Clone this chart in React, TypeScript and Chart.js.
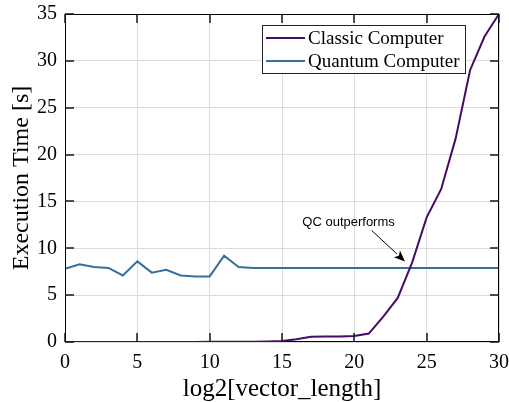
import React, { useEffect, useRef } from "react";
import { Chart, registerables } from "chart.js";

Chart.register(...registerables);

const xValues = [0, 1, 2, 3, 4, 5, 6, 7, 8, 9, 10, 11, 12, 13, 14, 15, 16, 17, 18, 19, 20, 21, 22, 23, 24, 25, 26, 27, 28, 29, 30];
const classicTimes = [0.01, 0.01, 0.01, 0.01, 0.01, 0.01, 0.01, 0.01, 0.01, 0.01, 0.02, 0.02, 0.03, 0.04, 0.06, 0.1, 0.3, 0.55, 0.58, 0.6, 0.65, 0.9, 2.7, 4.7, 8.5, 13.3, 16.3, 21.7, 29.0, 32.6, 35.0];
const quantumTimes = [7.8, 8.3, 8.0, 7.9, 7.1, 8.6, 7.4, 7.7, 7.1, 7.0, 7.0, 9.2, 8.0, 7.9, 7.9, 7.9, 7.9, 7.9, 7.9, 7.9, 7.9, 7.9, 7.9, 7.9, 7.9, 7.9, 7.9, 7.9, 7.9, 7.9, 7.9];
const seriesLabels = ["Classic Computer", "Quantum Computer"];
const seriesColors = ["#480b62", "#33709a"];
const xTicks = [0, 5, 10, 15, 20, 25, 30];
const yTicks = [0, 5, 10, 15, 20, 25, 30, 35];
const annotationText = "QC outperforms";
const annotationTextPos = { x: 19.6, y: 12.8 };
const arrowStart = { x: 21.2, y: 11.9 };
const arrowEnd = { x: 23.5, y: 8.6 };

const SERIF = "'Liberation Serif', 'Times New Roman', serif";
const SANS = "'Liberation Sans', Arial, sans-serif";

const framePlugin = {
  id: "frame",
  beforeDatasetsDraw(chart: any) {
    const { ctx, chartArea: a } = chart;
    ctx.save();
    ctx.fillStyle = "#000";
    const L = Math.round(a.left), R = Math.round(a.right), B = Math.round(a.bottom);
    ctx.fillRect(L, B - 1, R - L, 1);
    ctx.restore();
  },
  afterDraw(chart: any) {
    const { ctx, chartArea: a, scales } = chart;
    const sx = scales.x, sy = scales.y;
    const L = Math.round(a.left), T = Math.round(a.top), R = Math.round(a.right), B = Math.round(a.bottom);
    ctx.save();
    ctx.fillStyle = "#000";
    ctx.fillRect(L, T, 1, B - T);
    ctx.fillRect(L, T, R - L, 1);
    ctx.fillRect(R - 1, T, 1, B - T);
    const len = 9;
    ctx.fillStyle = "#161616";
    for (const v of xTicks) {
      const px = Math.round(sx.getPixelForValue(v));
      ctx.fillRect(px - 0.75, B - len, 1.5, len);
      ctx.fillRect(px - 0.75, T, 1.5, len);
    }
    for (const v of yTicks) {
      const py = Math.round(sy.getPixelForValue(v));
      ctx.fillRect(L, py - 0.75, len, 1.5);
      ctx.fillRect(R - len, py - 0.75, len, 1.5);
    }
    // annotation
    ctx.fillStyle = "#000";
    ctx.font = `13px ${SANS}`;
    ctx.textAlign = "center";
    ctx.textBaseline = "middle";
    ctx.fillText(annotationText, sx.getPixelForValue(annotationTextPos.x), sy.getPixelForValue(annotationTextPos.y));
    const x1 = sx.getPixelForValue(arrowStart.x), y1 = sy.getPixelForValue(arrowStart.y);
    const x2 = sx.getPixelForValue(arrowEnd.x), y2 = sy.getPixelForValue(arrowEnd.y);
    const ang = Math.atan2(y2 - y1, x2 - x1);
    const hl = 11, hw = 4.5;
    const bx = x2 - hl * Math.cos(ang), by = y2 - hl * Math.sin(ang);
    ctx.strokeStyle = "#000";
    ctx.lineWidth = 1;
    ctx.beginPath();
    ctx.moveTo(x1, y1);
    ctx.lineTo(bx, by);
    ctx.stroke();
    ctx.beginPath();
    ctx.moveTo(x2, y2);
    ctx.lineTo(bx + hw * Math.sin(ang), by - hw * Math.cos(ang));
    ctx.lineTo(x2 - hl * 0.75 * Math.cos(ang), y2 - hl * 0.75 * Math.sin(ang));
    ctx.lineTo(bx - hw * Math.sin(ang), by + hw * Math.cos(ang));
    ctx.closePath();
    ctx.fill();
    // legend
    const lx = 262.5, ly = 25.5, lw = 203, lh = 48;
    ctx.fillStyle = "#fff";
    ctx.fillRect(lx, ly, lw, lh);
    ctx.strokeStyle = "#222";
    ctx.lineWidth = 1;
    ctx.strokeRect(lx, ly, lw, lh);
    ctx.font = `19px ${SERIF}`;
    ctx.textAlign = "left";
    ctx.textBaseline = "middle";
    const rows = [38, 61];
    chart.data.datasets.forEach((ds: any, i: number) => {
      ctx.strokeStyle = ds.borderColor;
      ctx.lineWidth = 2;
      ctx.beginPath();
      ctx.moveTo(266, rows[i]);
      ctx.lineTo(305, rows[i]);
      ctx.stroke();
      ctx.fillStyle = "#000";
      ctx.fillText(ds.label, 308, rows[i] + 1);
    });
    ctx.restore();
  },
};

export default function App() {
  const ref = useRef<HTMLCanvasElement | null>(null);
  useEffect(() => {
    if (!ref.current) return;
    const chart = new Chart(ref.current, {
      type: "line",
      data: {
        datasets: [
          {
            label: seriesLabels[0],
            data: xValues.map((x, i) => ({ x, y: classicTimes[i] })),
            borderColor: seriesColors[0],
            backgroundColor: seriesColors[0],
            borderWidth: 2,
            pointRadius: 0,
            tension: 0,
          },
          {
            label: seriesLabels[1],
            data: xValues.map((x, i) => ({ x, y: quantumTimes[i] })),
            borderColor: seriesColors[1],
            backgroundColor: seriesColors[1],
            borderWidth: 2,
            pointRadius: 0,
            tension: 0,
          },
        ],
      },
      options: {
        animation: false,
        responsive: false,
        devicePixelRatio: 1,
        layout: { padding: { top: 14, right: 10, left: 0, bottom: 0 } },
        plugins: { legend: { display: false }, tooltip: { enabled: false } },
        scales: {
          x: {
            type: "linear",
            min: 0,
            max: 30,
            afterBuildTicks: (s: any) => { s.ticks = xTicks.map((v) => ({ value: v })); },
            ticks: { color: "#000", font: { family: SERIF, size: 20 }, padding: 9, maxRotation: 0 },
            grid: { color: "#dcdcdc", drawTicks: false, lineWidth: 1 },
            border: { display: false },
            title: { display: true, text: "log2[vector_length]", color: "#000", font: { family: SERIF, size: 25, lineHeight: 1 }, padding: { top: 0, bottom: 0 } },
            afterFit: (s: any) => { s.height = 60; s.paddingLeft = 0; s.paddingRight = 0; },
          },
          y: {
            type: "linear",
            min: 0,
            max: 35,
            afterBuildTicks: (s: any) => { s.ticks = yTicks.map((v) => ({ value: v })); },
            ticks: { color: "#000", font: { family: SERIF, size: 20 }, padding: 8 },
            grid: { color: "#dcdcdc", drawTicks: false, lineWidth: 1 },
            border: { display: false },
            title: { display: true, text: "Execution Time [s]", color: "#000", font: { family: SERIF, size: 24 }, padding: { top: 7, bottom: 0 } },
            afterFit: (s: any) => { s.width = 65; s.paddingTop = 0; s.paddingBottom = 0; },
          },
        },
      },
      plugins: [framePlugin],
    } as any);
    return () => chart.destroy();
  }, []);
  return (
    <div style={{ position: "absolute", left: 0, top: 0, width: 509, height: 402, background: "#fff" }}>
      <canvas ref={ref} width={509} height={402} style={{ display: "block" }} />
    </div>
  );
}
